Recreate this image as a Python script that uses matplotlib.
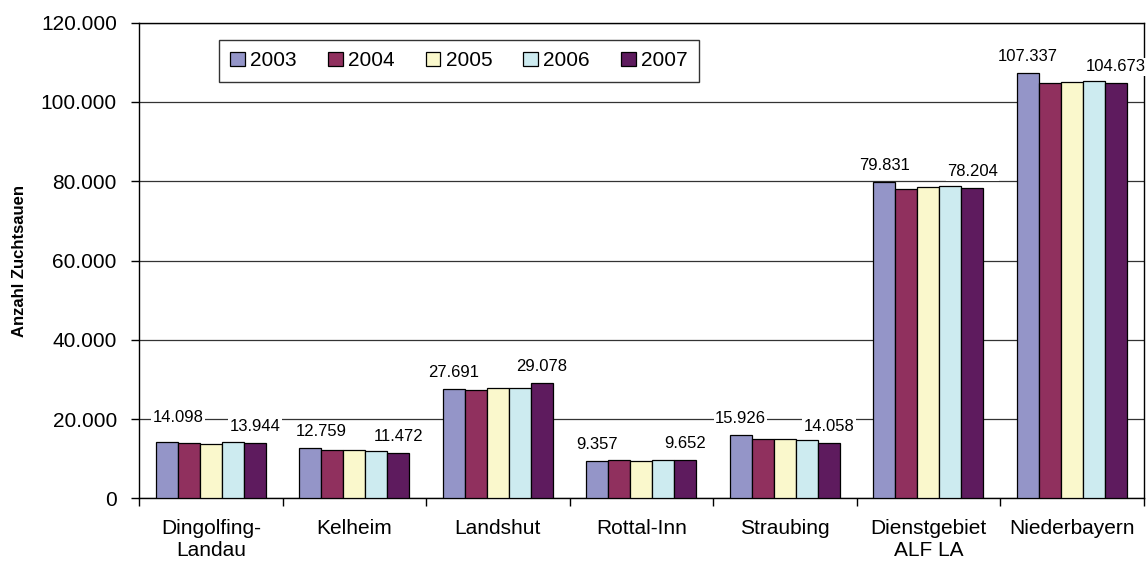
import matplotlib
matplotlib.use("Agg")
import matplotlib.pyplot as plt
import numpy as np

plt.rcParams["font.family"] = ["Liberation Sans", "DejaVu Sans"]

regions = ["Dingolfing-\nLandau", "Kelheim", "Landshut", "Rottal-Inn",
           "Straubing", "Dienstgebiet\nALF LA", "Niederbayern"]
years = ["2003", "2004", "2005", "2006", "2007"]

# Zuchtsauen je Landkreis und Jahr
sows_2003 = [14098, 12759, 27691, 9357, 15926, 79831, 107337]
sows_2004 = [14000, 12200, 27300, 9620, 14950, 78000, 104700]
sows_2005 = [13750, 12070, 27900, 9450, 14950, 78500, 105000]
sows_2006 = [14250, 11900, 27800, 9700, 14770, 78800, 105200]
sows_2007 = [13944, 11472, 29078, 9652, 14058, 78204, 104673]

series = [sows_2003, sows_2004, sows_2005, sows_2006, sows_2007]
colors = ["#9495C8", "#90305E", "#FAF8CC", "#CDEBF0", "#5E1B5E"]
labelled = {0, 4}  # only first and last year get value labels
# labels moved by hand so they don't collide: (series, region) -> (dx, dy) in points
nudge = {(0, 0): (8, 6), (0, 1): (8, 0)}


def de_fmt(v):
    return f"{v:,.0f}".replace(",", ".")


fig = plt.figure(figsize=(11.48, 5.62), dpi=100)
ax = fig.add_axes([0.1211, 0.1133, 0.8750, 0.8463])

x = np.arange(len(regions))
w = 1 / 6.5
for j, (vals, col) in enumerate(zip(series, colors)):
    bars = ax.bar(x + (j - 2) * w, vals, width=w, color=col,
                  edgecolor="black", linewidth=0.9, label=years[j], zorder=3)
    if j in labelled:
        for i, (b, v) in enumerate(zip(bars, vals)):
            dx, dy = nudge.get((j, i), (0, 0))
            ax.annotate(de_fmt(v), (b.get_x() + b.get_width() / 2, v),
                        xytext=(dx, 6.5 + dy), textcoords="offset points",
                        ha="center", va="bottom", fontsize=12, zorder=4,
                        bbox=dict(facecolor="white", edgecolor="none", pad=1))

ax.set_xlim(-0.5, len(regions) - 0.5)
ax.set_ylim(0, 120000)
ax.set_yticks(np.arange(0, 120001, 20000))
ax.set_yticklabels([de_fmt(v) for v in np.arange(0, 120001, 20000)], fontsize=15)
ax.yaxis.grid(True, color="#333333", linewidth=0.9, zorder=0)

# category separators as major ticks, names on minor ticks
ax.set_xticks(np.arange(len(regions) + 1) - 0.5)
ax.set_xticklabels([])
ax.set_xticks(x, minor=True)
ax.set_xticklabels(regions, minor=True, fontsize=15, linespacing=1.2)
ax.tick_params(axis="x", which="minor", length=0, pad=15)
ax.tick_params(axis="x", which="major", length=6, width=1, direction="out")
ax.tick_params(axis="y", length=6, width=1, direction="out", pad=10)

for s in ax.spines.values():
    s.set_color("black")
    s.set_linewidth(1)

ax.set_ylabel("Anzahl Zuchtsauen", fontsize=12, fontweight="bold", labelpad=9.5)

leg = ax.legend(loc="upper left", bbox_to_anchor=(0.0796, 0.9636), ncol=5,
                fontsize=15, frameon=True, fancybox=False, borderaxespad=0,
                handlelength=0.7, handleheight=0.7, handletextpad=0.25,
                columnspacing=1.5, borderpad=0.55)
leg.get_frame().set_edgecolor("black")
leg.get_frame().set_linewidth(1)

fig.savefig("out.png", dpi=100)
